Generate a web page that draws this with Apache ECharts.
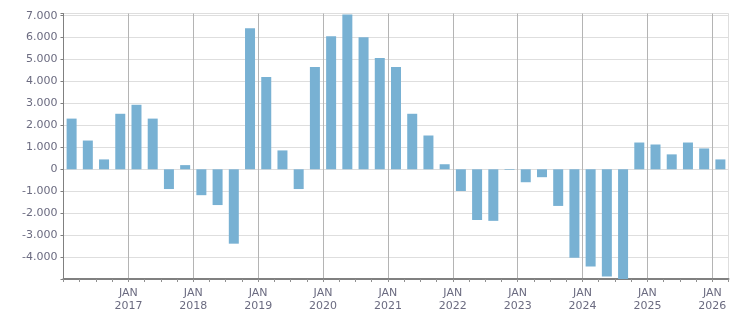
<!DOCTYPE html>
<html>
<head>
<meta charset="utf-8">
<script src="https://cdn.jsdelivr.net/npm/echarts@6/dist/echarts.min.js"></script>
<style>
html, body { margin: 0; padding: 0; background: #fff; }
#chart { width: 751px; height: 313px; }
</style>
</head>
<body>
<div id="chart"></div>
<script>
// quarterly values, 2016 Q1 .. 2026 Q1
var quarters = [
    '2016 Q1', '2016 Q2', '2016 Q3', '2016 Q4',
    '2017 Q1', '2017 Q2', '2017 Q3', '2017 Q4',
    '2018 Q1', '2018 Q2', '2018 Q3', '2018 Q4',
    '2019 Q1', '2019 Q2', '2019 Q3', '2019 Q4',
    '2020 Q1', '2020 Q2', '2020 Q3', '2020 Q4',
    '2021 Q1', '2021 Q2', '2021 Q3', '2021 Q4',
    '2022 Q1', '2022 Q2', '2022 Q3', '2022 Q4',
    '2023 Q1', '2023 Q2', '2023 Q3', '2023 Q4',
    '2024 Q1', '2024 Q2', '2024 Q3', '2024 Q4',
    '2025 Q1', '2025 Q2', '2025 Q3', '2025 Q4',
    '2026 Q1'
];
var values = [
    2310, 1310, 450, 2530,
    2940, 2310, -900, 190,
    -1180, -1630, -3390, 6430,
    4210, 860, -900, 4660,
    6060, 7060, 6020, 5070,
    4660, 2530, 1540, 230,
    -990, -2310, -2350, -30,
    -590, -360, -1670, -4030,
    -4430, -4890, -5000, 1220,
    1130, 680, 1220, 950,
    450
];
var years = ['2016', '2017', '2018', '2019', '2020', '2021', '2022', '2023', '2024', '2025', '2026'];

// boundaries between quarters, used only for the JAN labels and year lines
var boundaries = [];
for (var k = 0; k <= quarters.length; k++) {
    boundaries.push(k % 4 === 0 ? 'JAN\n' + years[k / 4] : '');
}

var textColor = '#6b6b80';
var fontFamily = 'DejaVu Sans';

function isYear(index) {
    return index % 4 === 0 && index > 0 && index < quarters.length;
}

function fmt(v) {
    if (v % 1000 !== 0 || v === -5000) return '';
    var s = String(Math.abs(v)).replace(/\B(?=(\d{3})+(?!\d))/g, '.');
    return (v < 0 ? '-' : '') + s;
}

var myChart = echarts.init(document.getElementById('chart'));
var option = {
    animation: false,
    grid: {
        left: 63.5,
        right: 22.5,
        top: 13.5,
        bottom: 33,
        show: true,
        borderColor: '#dedede',
        borderWidth: 1
    },
    xAxis: [
        {
            type: 'category',
            data: quarters,
            axisLine: { onZero: false, lineStyle: { color: '#808080', width: 2 } },
            axisTick: { show: true, interval: 0, length: 3, lineStyle: { color: '#909090' } },
            axisLabel: { show: false },
            splitLine: { show: false }
        },
        {
            type: 'category',
            position: 'bottom',
            boundaryGap: false,
            data: boundaries,
            axisLine: { show: false },
            axisTick: { show: false },
            axisLabel: {
                interval: function (index) { return isYear(index); },
                color: textColor,
                fontFamily: fontFamily,
                fontSize: 11,
                lineHeight: 13,
                margin: 8
            },
            splitLine: {
                show: true,
                interval: function (index) { return isYear(index); },
                lineStyle: { color: '#b4b4b4', width: 1 }
            }
        }
    ],
    yAxis: {
        type: 'value',
        min: -5000,
        max: 7100,
        interval: 1000,
        axisLine: { show: true, lineStyle: { color: '#808080', width: 1 } },
        axisTick: { show: true, length: 3, lineStyle: { color: '#808080' } },
        axisLabel: {
            formatter: fmt,
            color: textColor,
            fontFamily: fontFamily,
            fontSize: 11,
            margin: 6
        },
        splitLine: { lineStyle: { color: '#dedede', width: 1 } }
    },
    series: [
        {
            type: 'bar',
            data: values,
            barWidth: 10,
            itemStyle: { color: '#78b1d3' }
        }
    ]
};
myChart.setOption(option);
</script>
</body>
</html>
